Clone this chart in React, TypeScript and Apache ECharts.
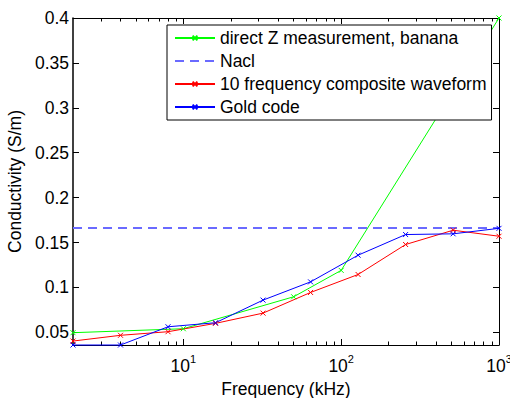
import React, { useEffect, useRef } from 'react';
import * as echarts from 'echarts';

const seriesNames = [
  'direct Z measurement, banana',
  'Nacl',
  '10 frequency composite waveform',
  'Gold code',
];
const bananaFreqs = [2, 10, 50, 100, 1000];
const bananaValues = [0.0496, 0.054, 0.0896, 0.119, 0.4];
const naclFreqs = [2, 1000];
const naclValues = [0.1662, 0.1662];
const freqs = [2, 4, 8, 16, 32, 64, 128, 256, 512, 1000];
const compositeValues = [0.0403, 0.0467, 0.0507, 0.06, 0.0714, 0.0944, 0.1144, 0.1478, 0.1637, 0.157];
const goldValues = [0.0359, 0.0359, 0.0562, 0.0607, 0.0859, 0.1062, 0.1359, 0.1589, 0.1597, 0.1658];
const yTicks = [0.05, 0.1, 0.15, 0.2, 0.25, 0.3, 0.35, 0.4];
const yTickLabels = ['0.05', '0.1', '0.15', '0.2', '0.25', '0.3', '0.35', '0.4'];
const xMajorExponents = [1, 2, 3];
const xMinorFreqs = [3, 4, 5, 6, 7, 8, 9, 20, 30, 40, 50, 60, 70, 80, 90, 200, 300, 400, 500, 600, 700, 800, 900];
const xMin = 2;
const xMax = 1000;
const yMin = 0.0359;
const yMax = 0.4;

const FONT = '"Liberation Sans", Arial, sans-serif';
const CROSS = 'path://M0,0L10,10M0,10L10,0';

const toXY = (fs: number[], vs: number[]) => fs.map((f, i) => [Math.log10(f), vs[i]]);

export default function App() {
  const ref = useRef<HTMLDivElement>(null);
  useEffect(() => {
    if (!ref.current) return;
    const chart = echarts.init(ref.current, undefined, { renderer: 'svg' });
    const lx0 = Math.log10(xMin);
    const lx1 = Math.log10(xMax);
    const minorLog = xMinorFreqs.map((f) => Math.log10(f));
    const baseX = { type: 'value', min: lx0, max: lx1, gridIndex: 0, splitLine: { show: false } };
    const mkSeries = (name: string, color: string, data: number[][], dashed = false, marker = true) => ({
      name,
      type: 'line',
      data,
      xAxisIndex: 0,
      yAxisIndex: 0,
      clip: false,
      symbol: CROSS,
      symbolSize: 5,
      showSymbol: marker,
      lineStyle: { color, width: dashed ? 2 : 1, type: dashed ? [9, 6] : 'solid' },
      itemStyle: { color, borderColor: color, borderWidth: 1 },
      emphasis: { disabled: true },
      z: 2,
    });
    chart.setOption({
      animation: false,
      grid: { left: 73, right: 11, top: 18, bottom: 53, show: false, containLabel: false, outerBoundsMode: 'none' },
      legend: {
        orient: 'vertical',
        left: 167,
        top: 25,
        backgroundColor: '#fff',
        borderColor: '#000',
        borderWidth: 1,
        padding: [3, 5, 3, 7],
        itemWidth: 40,
        itemHeight: 6,
        itemGap: 3,
        selectedMode: false,
        textStyle: { fontSize: 17.5, fontFamily: FONT, color: '#000', lineHeight: 20 },
        data: [
          seriesNames[0],
          { name: seriesNames[1], itemStyle: { opacity: 0 } },
          seriesNames[2],
          seriesNames[3],
        ],
      },
      xAxis: [
        {
          ...baseX,
          position: 'bottom',
          name: 'Frequency (kHz)',
          nameLocation: 'middle',
          nameGap: 29,
          nameTextStyle: { fontSize: 17.5, fontFamily: FONT, color: '#000' },
          axisLine: { show: true, lineStyle: { color: '#000', width: 1 } },
          axisTick: { show: true, inside: true, length: 6, customValues: xMajorExponents, lineStyle: { color: '#000' } },
          axisLabel: {
            show: true,
            margin: 8,
            customValues: xMajorExponents,
            formatter: (v: number) => `{b|10}{s|${Math.round(v)}}`,
            rich: {
              b: { fontSize: 17.5, fontFamily: FONT, color: '#000', lineHeight: 22, verticalAlign: 'bottom' },
              s: { fontSize: 11, fontFamily: FONT, color: '#000', lineHeight: 11, verticalAlign: 'top' },
            },
          },
        },
        {
          ...baseX,
          position: 'bottom',
          axisLine: { show: false },
          axisTick: { show: true, inside: true, length: 3.5, customValues: minorLog, lineStyle: { color: '#000' } },
          axisLabel: { show: false },
        },
        {
          ...baseX,
          position: 'top',
          axisLine: { show: true, lineStyle: { color: '#000', width: 1 } },
          axisTick: { show: true, inside: true, length: 6, customValues: xMajorExponents, lineStyle: { color: '#000' } },
          axisLabel: { show: false },
        },
        {
          ...baseX,
          position: 'top',
          axisLine: { show: false },
          axisTick: { show: true, inside: true, length: 3.5, customValues: minorLog, lineStyle: { color: '#000' } },
          axisLabel: { show: false },
        },
      ],
      yAxis: [
        {
          type: 'value',
          min: yMin,
          max: yMax,
          position: 'left',
          splitLine: { show: false },
          name: 'Conductivity (S/m)',
          nameLocation: 'middle',
          nameGap: 45,
          nameTextStyle: { fontSize: 17.5, fontFamily: FONT, color: '#000' },
          axisLine: { show: true, lineStyle: { color: '#000', width: 1.5 } },
          axisTick: { show: true, inside: true, length: 6, customValues: yTicks, lineStyle: { color: '#000' } },
          axisLabel: {
            show: true,
            margin: 4,
            customValues: yTicks,
            fontSize: 17.5,
            fontFamily: FONT,
            color: '#000',
            formatter: (v: number) => {
              const i = yTicks.findIndex((t) => Math.abs(t - v) < 1e-9);
              return i >= 0 ? yTickLabels[i] : '';
            },
          },
        },
        {
          type: 'value',
          min: yMin,
          max: yMax,
          position: 'right',
          splitLine: { show: false },
          axisLine: { show: true, lineStyle: { color: '#000', width: 1 } },
          axisTick: { show: true, inside: true, length: 6, customValues: yTicks, lineStyle: { color: '#000' } },
          axisLabel: { show: false },
        },
      ],
      series: [
        mkSeries(seriesNames[0], '#00ff00', toXY(bananaFreqs, bananaValues)),
        mkSeries(seriesNames[1], '#6a6aff', toXY(naclFreqs, naclValues), true, false),
        mkSeries(seriesNames[2], '#ff0000', toXY(freqs, compositeValues)),
        mkSeries(seriesNames[3], '#0000ff', toXY(freqs, goldValues)),
      ],
    });
    return () => chart.dispose();
  }, []);
  return <div ref={ref} style={{ width: 510, height: 398, position: 'absolute', left: 0, top: 0, background: '#fff' }} />;
}
